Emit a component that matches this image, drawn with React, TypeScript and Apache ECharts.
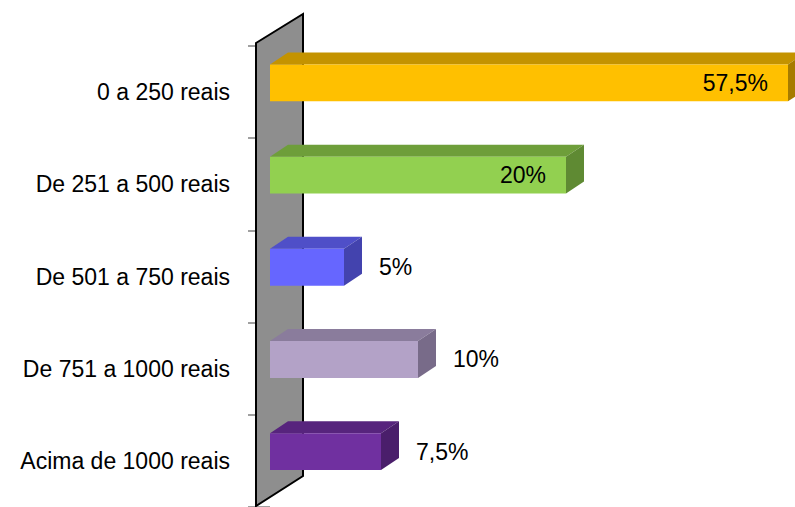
import React, { useEffect, useRef } from "react";
import * as echarts from "echarts";

const categories = [
  "0 a 250 reais",
  "De 251 a 500 reais",
  "De 501 a 750 reais",
  "De 751 a 1000 reais",
  "Acima de 1000 reais",
];
const values = [57.5, 20, 5, 10, 7.5];
const frontColors = ["#FFC000", "#92D050", "#6666FF", "#B3A2C7", "#7030A0"];
const topColors = ["#C49300", "#6E9E3A", "#4F4FC8", "#8A7C9C", "#57247D"];
const sideColors = ["#A67C00", "#5F8A33", "#4343AE", "#786B89", "#4A1E6B"];

const X_MAX = 35;
const FONT = "Liberation Sans, Arial, sans-serif";

export default function App() {
  const ref = useRef<HTMLDivElement>(null);
  useEffect(() => {
    if (!ref.current) return;
    const chart = echarts.init(ref.current, undefined, { renderer: "svg" });
    const data = values.map((v, i) => [v, categories[i]]);
    chart.setOption({
      animation: false,
      backgroundColor: "#ffffff",
      grid: { left: 270, right: 7, top: 46, bottom: 0, containLabel: false },
      xAxis: { type: "value", min: 0, max: X_MAX, show: false },
      yAxis: {
        type: "category",
        inverse: true,
        data: categories,
        offset: 14,
        z: 0,
        axisLine: { show: false },
        axisTick: { show: true, inside: false, length: 22, lineStyle: { color: "#a0a0a0", width: 2 } },
        splitLine: { show: false },
        axisLabel: {
          margin: 26,
          fontFamily: FONT,
          fontSize: 23,
          color: "#000",
          padding: [6, 0, 0, 0],
        },
      },
      graphic: [
        {
          type: "polygon",
          z: 2,
          shape: { points: [[256, 43], [303, 14], [303, 476], [256, 506]] },
          style: { fill: "#8e8e8e", stroke: "#000", lineWidth: 2 },
        },
      ],
      series: [
        {
          type: "custom",
          z: 5,
          clip: false,
          encode: { x: 0, y: 1 },
          data,
          renderItem: (params: any, api: any) => {
            const idx = params.dataIndex;
            const v = api.value(0);
            const cat = api.value(1);
            const shown = Math.min(v, X_MAX);
            const p0 = api.coord([0, cat]);
            const p1 = api.coord([shown, cat]);
            const band = api.size([0, 1])[1];
            const x0 = p0[0];
            const x1 = p1[0];
            const yc = p0[1];
            const t = yc - band * 0.3;
            const h = band * 0.4;
            const b = t + h;
            const dx = 18;
            const dy = 12;
            const inside = v >= 15;
            const label = String(v).replace(".", ",") + "%";
            return {
              type: "group",
              children: [
                {
                  type: "polygon",
                  shape: { points: [[x0, t], [x0 + dx, t - dy], [x1 + dx, t - dy], [x1, t]] },
                  style: { fill: topColors[idx] },
                },
                {
                  type: "polygon",
                  shape: { points: [[x1, t], [x1 + dx, t - dy], [x1 + dx, b - dy], [x1, b]] },
                  style: { fill: sideColors[idx] },
                },
                {
                  type: "rect",
                  shape: { x: x0, y: t, width: x1 - x0, height: h },
                  style: { fill: frontColors[idx] },
                },
                {
                  type: "text",
                  x: inside ? x1 - 20 : x1 + 35,
                  y: t + h / 2,
                  style: {
                    text: label,
                    fontFamily: FONT,
                    fontSize: 23,
                    fill: "#000",
                    align: inside ? "right" : "left",
                    verticalAlign: "middle",
                  },
                },
              ],
            };
          },
        },
      ],
    });
    return () => chart.dispose();
  }, []);
  return (
    <div
      ref={ref}
      style={{ position: "fixed", left: 0, top: 0, width: 795, height: 507 }}
    />
  );
}
